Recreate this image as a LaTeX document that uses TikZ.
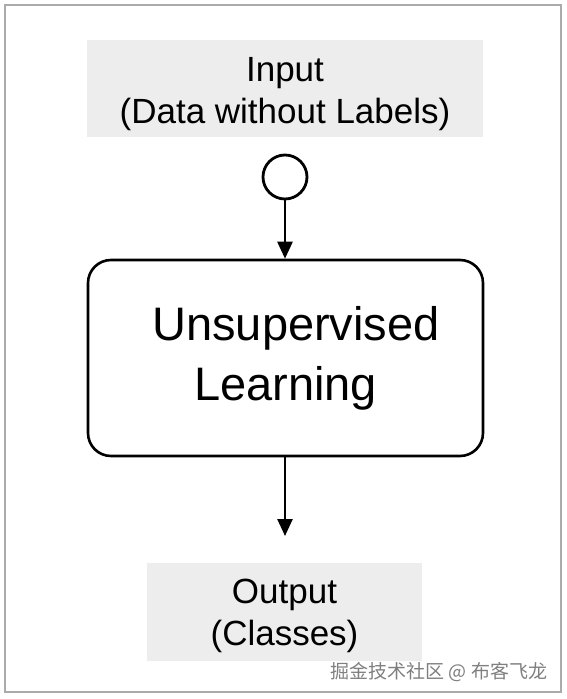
\documentclass[tikz,border=0pt]{standalone}
\usepackage{fontspec}
\setmainfont{Liberation Sans}
\newfontfamily\cjkfont{Noto Sans CJK SC}
\usetikzlibrary{arrows.meta}
\definecolor{boxgray}{HTML}{EDEDED}
\definecolor{framegray}{HTML}{ABABAB}
\definecolor{markgray}{HTML}{7F7F7F}

\begin{document}
\begin{tikzpicture}[x=1pt,y=-1pt,
    iobox/.style={rectangle,fill=boxgray,align=center,inner sep=0pt,
        font=\fontsize{35}{42.5}\selectfont},
    flow/.style={line width=2.5pt,-{Triangle[length=17pt,width=15pt]}}]
    \useasboundingbox (0,0) rectangle (566,699);
    %\draw[help lines] (0,0) grid[step=50] (566,699);
    \draw[framegray,line width=2pt] (4.5,4.5) rectangle (560.5,692);
    \node[iobox,minimum width=396pt,minimum height=97pt] (input) at (285,88.5)
        {\rule{0pt}{35pt}Input\\(Data without Labels)};
    \node[circle,draw,line width=2.8pt,minimum size=44pt,inner sep=0pt] (dot) at (285,177) {};
    \node[rectangle,draw,line width=2.6pt,rounded corners=23pt,
        minimum width=395pt,minimum height=196pt,align=center,
        font=\fontsize{47}{60}\selectfont] (learn) at (285.5,358)
        {\hspace*{21pt}Unsupervised\\Learning};
    \node[iobox,minimum width=275pt,minimum height=98pt] (output) at (284.5,612)
        {\rule{0pt}{32pt}Output\\(Classes)};
    \coordinate (outtip) at (285,536);
    \draw[flow] (dot) -- (dot |- learn.north);
    \draw[flow] (dot |- learn.south) -- (outtip);
    \node[text=markgray,font=\cjkfont\fontsize{19}{22}\selectfont,inner sep=0pt]
        (mark) at (439,672) {掘金技术社区 @ 布客飞龙};
\end{tikzpicture}
\end{document}
